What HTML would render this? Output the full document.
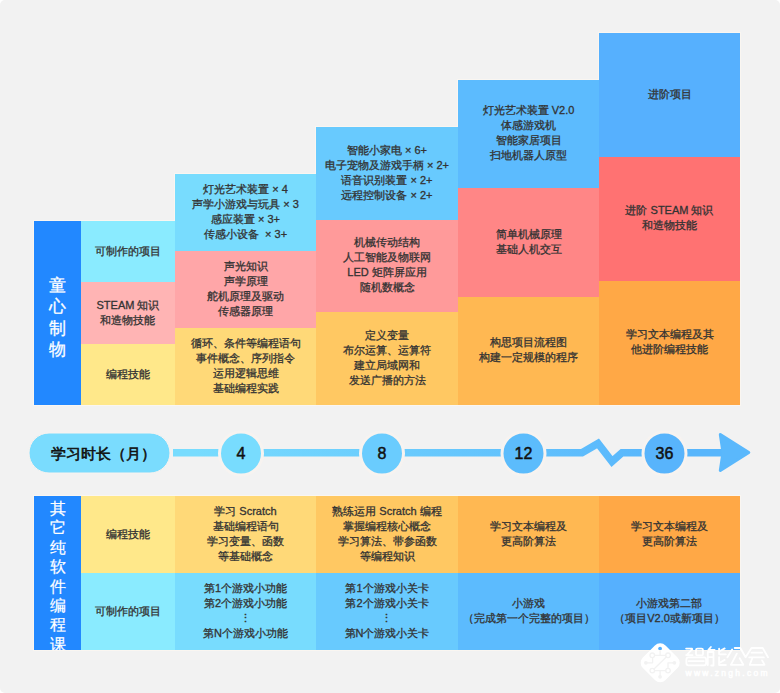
<!DOCTYPE html>
<html><head><meta charset="utf-8">
<style>
html,body{margin:0;padding:0;background:#ffffff;}
body{width:780px;height:693px;position:relative;overflow:hidden;font-family:"Liberation Sans",sans-serif;}
.card{position:absolute;left:0;top:0;width:780px;height:693px;background:#f2f2f2;border-radius:5px;}
.c{position:absolute;display:flex;align-items:center;justify-content:center;text-align:center;font-size:11px;line-height:15px;color:#333;-webkit-text-stroke:0.3px #333;}
.c>div{white-space:nowrap;position:relative;top:-1px;}
.c1>div{top:0;}
.h{position:absolute;background:#faf6f1;}
.vd{display:inline-block;line-height:15px;}
.lab{position:absolute;left:34px;width:47px;background:#2288ff;color:#fff;font-size:17px;overflow:hidden;display:flex;flex-direction:column;align-items:center;justify-content:center;}
.lab span{display:block;}
svg{position:absolute;left:0;top:0;}
</style></head><body>
<div class="card"></div>
<div class="h" style="left:33px;top:220px;width:49px;height:186px"></div>
<div class="h" style="left:33px;top:495px;width:708px;height:156px"></div>
<div class="h" style="left:80px;top:220px;width:96px;height:186px"></div>
<div class="h" style="left:174px;top:173px;width:143px;height:233px"></div>
<div class="h" style="left:315px;top:126px;width:144px;height:280px"></div>
<div class="h" style="left:457px;top:79px;width:143px;height:327px"></div>
<div class="h" style="left:598px;top:32px;width:143px;height:374px"></div>
<div class="lab" style="top:221px;height:184px;line-height:21.5px;font-size:17px;padding-top:9px;-webkit-text-stroke:0.3px #fff;box-sizing:border-box;"><span>童</span><span>心</span><span>制</span><span>物</span></div>
<div class="lab" style="top:496px;height:154px;line-height:19.4px;font-size:15.5px;-webkit-text-stroke:0.2px #fff;justify-content:flex-start;padding-top:3px;box-sizing:border-box;"><span>其</span><span>它</span><span>纯</span><span>软</span><span>件</span><span>编</span><span>程</span><span>课</span></div>
<div class="c c1" style="left:81px;top:221px;width:94px;height:61px;background:#8aebff"><div>可制作的项目</div></div>
<div class="c c1" style="left:81px;top:282px;width:94px;height:62px;background:#ffb4b4"><div>STEAM 知识<br>和造物技能</div></div>
<div class="c c1" style="left:81px;top:344px;width:94px;height:61px;background:#ffe88a"><div>编程技能</div></div>
<div class="c c1" style="left:81px;top:496px;width:94px;height:77px;background:#ffe88a"><div>编程技能</div></div>
<div class="c c1" style="left:81px;top:573px;width:94px;height:77px;background:#8aebff"><div>可制作的项目</div></div>
<div class="c" style="left:175px;top:174px;width:141px;height:77px;background:#78dcfe"><div>灯光艺术装置 × 4<br>声学小游戏与玩具 × 3<br>感应装置 × 3+<br>传感小设备 &nbsp;× 3+</div></div>
<div class="c" style="left:175px;top:251px;width:141px;height:77px;background:#ffa6a8"><div>声光知识<br>声学原理<br>舵机原理及驱动<br>传感器原理</div></div>
<div class="c" style="left:175px;top:328px;width:141px;height:77px;background:#ffd978"><div>循环、条件等编程语句<br>事件概念、序列指令<br>运用逻辑思维<br>基础编程实践</div></div>
<div class="c" style="left:175px;top:496px;width:141px;height:77px;background:#ffd978"><div>学习 Scratch<br>基础编程语句<br>学习变量、函数<br>等基础概念</div></div>
<div class="c" style="left:175px;top:573px;width:141px;height:77px;background:#78dcfe"><div>第1个游戏小功能<br>第2个游戏小功能<br><span class='vd'>⋮</span><br>第N个游戏小功能</div></div>
<div class="c" style="left:316px;top:127px;width:142px;height:93px;background:#68cafe"><div>智能小家电 × 6+<br>电子宠物及游戏手柄 × 2+<br>语音识别装置 × 2+<br>远程控制设备 × 2+</div></div>
<div class="c" style="left:316px;top:220px;width:142px;height:92px;background:#ff9a9a"><div>机械传动结构<br>人工智能及物联网<br>LED 矩阵屏应用<br>随机数概念</div></div>
<div class="c" style="left:316px;top:312px;width:142px;height:93px;background:#ffc862"><div>定义变量<br>布尔运算、运算符<br>建立局域网和<br>发送广播的方法</div></div>
<div class="c" style="left:316px;top:496px;width:142px;height:77px;background:#ffc862"><div>熟练运用 Scratch 编程<br>掌握编程核心概念<br>学习算法、带参函数<br>等编程知识</div></div>
<div class="c" style="left:316px;top:573px;width:142px;height:77px;background:#68cafe"><div>第1个游戏小关卡<br>第2个游戏小关卡<br><span class='vd'>⋮</span><br>第N个游戏小关卡</div></div>
<div class="c" style="left:458px;top:80px;width:141px;height:108px;background:#5cbbfe"><div>灯光艺术装置 V2.0<br>体感游戏机<br>智能家居项目<br>扫地机器人原型</div></div>
<div class="c" style="left:458px;top:188px;width:141px;height:109px;background:#ff8686"><div>简单机械原理<br>基础人机交互</div></div>
<div class="c" style="left:458px;top:297px;width:141px;height:108px;background:#ffb852"><div>构思项目流程图<br>构建一定规模的程序</div></div>
<div class="c" style="left:458px;top:496px;width:141px;height:77px;background:#ffb852"><div>学习文本编程及<br>更高阶算法</div></div>
<div class="c" style="left:458px;top:573px;width:141px;height:77px;background:#5cbbfe"><div>小游戏<br>（完成第一个完整的项目）</div></div>
<div class="c" style="left:599px;top:33px;width:141px;height:124px;background:#56b0fe"><div>进阶项目</div></div>
<div class="c" style="left:599px;top:157px;width:141px;height:124px;background:#ff7272"><div>进阶 STEAM 知识<br>和造物技能</div></div>
<div class="c" style="left:599px;top:281px;width:141px;height:124px;background:#ffa846"><div>学习文本编程及其<br>他进阶编程技能</div></div>
<div class="c" style="left:599px;top:496px;width:141px;height:77px;background:#ffa846"><div>学习文本编程及<br>更高阶算法</div></div>
<div class="c" style="left:599px;top:573px;width:141px;height:77px;background:#56b0fe"><div>小游戏第二部<br>（项目V2.0或新项目）</div></div>
<svg width="780" height="693" viewBox="0 0 780 693">
  <defs>
    <linearGradient id="g" x1="0" y1="0" x2="780" y2="0" gradientUnits="userSpaceOnUse">
      <stop offset="0.25" stop-color="#78dcfe"/>
      <stop offset="0.85" stop-color="#58b6fc"/>
    </linearGradient>
  </defs>
  <rect x="29" y="433" width="141" height="40" rx="20" fill="#7adcfe" stroke="#f8f3f0" stroke-width="1"/>
  <polyline points="173,452.7 582,452.7 598,443.5 612,461.5 622,452.7 730,452.7" fill="none" stroke="url(#g)" stroke-width="7.5"/>
  <path d="M720.3,434.6 L748.8,452.5 L720.3,470.4 L723,452.5 Z" fill="#5ab8fc" stroke="#5ab8fc" stroke-width="3" stroke-linejoin="round"/>
  <circle cx="241" cy="453.5" r="21.5" fill="#78dcfe" stroke="#f7f3f0" stroke-width="3"/>
  <circle cx="382" cy="453.5" r="21.5" fill="#6accfe" stroke="#f7f3f0" stroke-width="3"/>
  <circle cx="523.5" cy="453.5" r="21.5" fill="#5cbcfc" stroke="#f7f3f0" stroke-width="3"/>
  <circle cx="664.5" cy="453.5" r="21.5" fill="#58b4fc" stroke="#f7f3f0" stroke-width="3"/>
  <g font-family="Liberation Sans, sans-serif" font-size="16" fill="#111" stroke="#111" stroke-width="0.5" text-anchor="middle">
    <text x="103" y="459" font-size="15" stroke-width="0.6">学习时长（月）</text>
    <text x="241" y="459">4</text>
    <text x="382" y="459">8</text>
    <text x="523.5" y="459">12</text>
    <text x="664.5" y="459">36</text>
  </g>
</svg>
<svg width="780" height="693" viewBox="0 0 780 693" style="position:absolute;left:0;top:0">
  <defs>
    <mask id="cm" maskUnits="userSpaceOnUse" x="630" y="635" width="60" height="55">
      <rect x="630" y="635" width="60" height="55" fill="#fff"/>
      <g fill="none" stroke="#000" stroke-width="1.3" stroke-linecap="round" stroke-linejoin="round">
        <circle cx="652.3" cy="655.3" r="2.3"/>
        <circle cx="668" cy="655.3" r="2.3"/>
        <circle cx="652.3" cy="670.6" r="2.3"/>
        <circle cx="668" cy="670.6" r="2.3"/>
        <path d="M654.6,655.3 H665.7 M660.1,649.5 V655.3 M666.3,657 L654,669 M654.6,670.6 H665.7 M660.1,670.6 V676.5 M646.5,662.8 H652.6 V657.6 M673.8,662.8 H668 V668.3"/>
      </g>
      <g fill="#000"><circle cx="660.1" cy="648.6" r="1.9"/><circle cx="660.1" cy="676.8" r="1.9"/><circle cx="645.9" cy="662.8" r="1.9"/><circle cx="674.4" cy="662.8" r="1.9"/></g>
    </mask>
  </defs>
  <g mask="url(#cm)"><rect x="-16" y="-16" width="32" height="32" rx="7.5" fill="#fff" transform="translate(660.2,662.8) rotate(45)"/></g>
  <g fill="none" stroke="#fff" stroke-width="1.8" stroke-linecap="round" stroke-linejoin="round">
    <path d="M686.1,648.6 H692 M692.3,649.2 L686.6,655.2 M686.1,655.1 H692.6"/>
    <rect x="696" y="648.6" width="7" height="6.8" rx="1.5"/>
    <rect x="686.4" y="657.4" width="19.7" height="7.9" rx="2"/>
    <path d="M688.6,661.1 H703.9"/>
    <path d="M710.9,647 L708.4,649.8 H714.6 M707.8,665 V652 H713.5 V665.5 H711.2 M707.8,657.1 H713.5"/>
    <path d="M724.7,648.4 L719.1,651.5 M719.1,648.6 V654.3 H725.9 M724.7,659.9 L719.7,662.7 M719.1,657.1 V665 H725.9"/>
    <path d="M732.1,649.5 L727.4,657.2 M734.7,648 H740.3 L745.6,657.2 L751.5,648 H762.7 L768,657.2 M751.5,652.7 H762.1 M749.2,657.4 H763.9"/>
    <path d="M752.1,658.6 L749.8,664.8 H764.5 L762.1,660.4 M736.8,653.6 L730.9,664.8 H743.3 L739.7,658.3"/>
  </g>
  <text x="685.5" y="676.3" font-family="Liberation Sans, sans-serif" font-size="8.5" fill="#fff" stroke="#fff" stroke-width="0.5" textLength="82" lengthAdjust="spacing">www.zngh.com</text>
</svg>
</body></html>
